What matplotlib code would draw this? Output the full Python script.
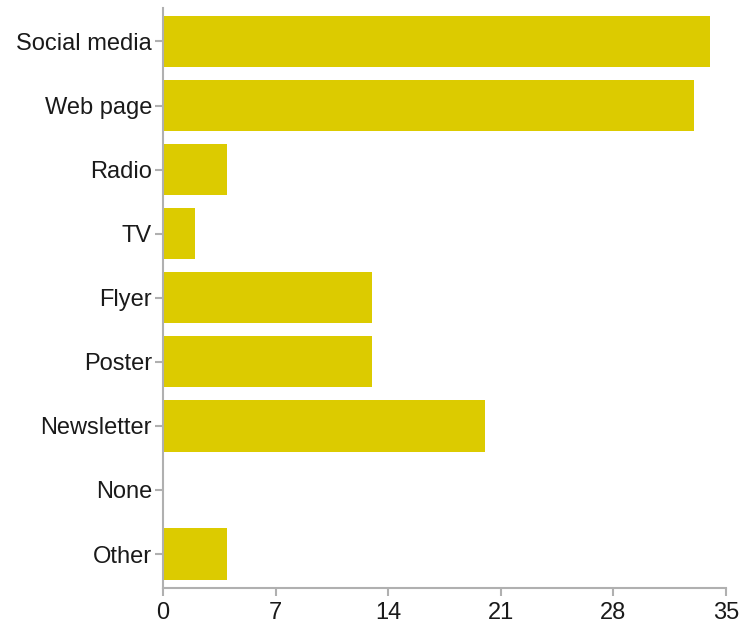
import matplotlib.pyplot as plt

categories = ['Social media', 'Web page', 'Radio', 'TV', 'Flyer', 'Poster',
              'Newsletter', 'None', 'Other']
counts = [34, 33, 4, 2, 13, 13, 20, 0, 4]
xticks = [0, 7, 14, 21, 28, 35]

plt.rcParams['font.family'] = ['Liberation Sans', 'DejaVu Sans']

fig = plt.figure(figsize=(7.4, 6.26), dpi=100, facecolor='white')
ax = fig.add_axes([0.2203, 0.0607, 0.981 - 0.2203, 0.987 - 0.0607])

pos = list(range(len(categories)))
ax.barh(pos, counts, height=0.8, color='#dccb00')

ax.set_xlim(0, 35)
ax.set_ylim(len(categories) - 0.47, -0.52)
ax.set_xticks(xticks)
ax.set_yticks(pos)
ax.set_yticklabels(categories)

for side in ['top', 'right']:
    ax.spines[side].set_visible(False)
for side in ['left', 'bottom']:
    ax.spines[side].set_color('#b0b0b0')
    ax.spines[side].set_linewidth(1.5)

ax.tick_params(axis='both', colors='#b0b0b0', width=1.5, length=6,
               labelsize=17, labelcolor='#1a1a1a')
ax.tick_params(axis='y', pad=2)
ax.tick_params(axis='x', pad=4)

fig.savefig('out.png', dpi=100)
